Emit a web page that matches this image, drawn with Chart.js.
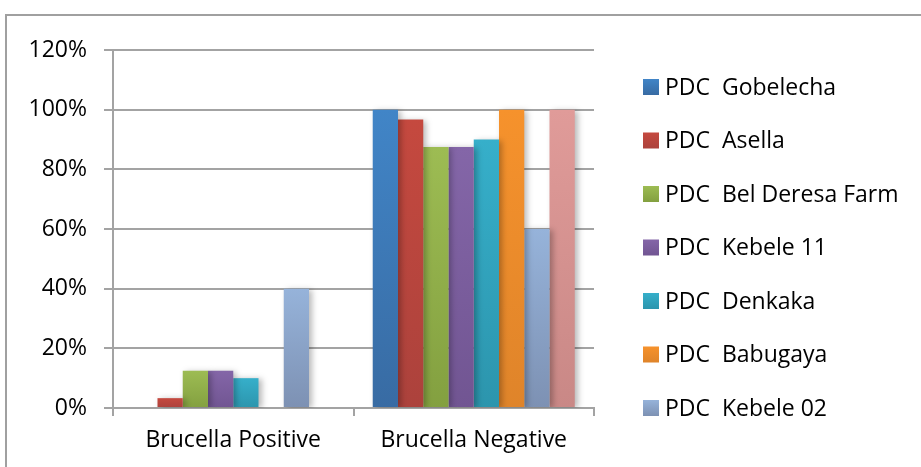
<!DOCTYPE html>
<html>
<head>
<meta charset="utf-8">
<script src="https://cdn.jsdelivr.net/npm/chart.js@4.4.1/dist/chart.umd.min.js"></script>
<style>
  html, body { margin: 0; padding: 0; background: #ffffff; }
  #wrap { position: relative; width: 921px; height: 467px; }
</style>
</head>
<body>
<div id="wrap"><canvas id="chart" width="921" height="467"></canvas></div>
<script>
// Test results per collection site (share of samples)
const categories = ['Brucella Positive', 'Brucella Negative'];
const siteNames = [
  'PDC  Gobelecha',
  'PDC  Asella',
  'PDC  Bel Deresa Farm',
  'PDC  Kebele 11',
  'PDC  Denkaka',
  'PDC  Babugaya',
  'PDC  Kebele 02',
  'PDC  Other'
];
const gobelecha = [0.000, 1.000];
const asella    = [0.033, 0.967];
const belDeresa = [0.125, 0.875];
const kebele11  = [0.125, 0.875];
const denkaka   = [0.100, 0.900];
const babugaya  = [0.000, 1.000];
const kebele02  = [0.400, 0.600];
const other     = [0.000, 1.000];
const yTicks = [0, 0.2, 0.4, 0.6, 0.8, 1.0, 1.2];

const seriesValues = [gobelecha, asella, belDeresa, kebele11, denkaka, babugaya, kebele02, other];
const legendCount = 7;

// Gradient palette: lighter at the top of each bar, darker at the base
const topColors    = ['#4185c7', '#c5493f', '#9dbc53', '#8466a8', '#36afca', '#f6922c', '#96b3da', '#e09b99'];
const bottomColors = ['#386ba3', '#ac423c', '#83a040', '#715592', '#2c95ad', '#df842a', '#7d91b3', '#c98886'];

const FONT = '"Open Sans", Lato, sans-serif';
const FONT_SIZE = 23;
const GRID = '#a3a3a3';

function barFill(ctx, i) {
  const chart = ctx.chart;
  const area = chart.chartArea;
  if (!area) return topColors[i];
  const y = chart.scales.y;
  const v = ctx.raw || 0;
  let top = y.getPixelForValue(v);
  let bottom = y.getPixelForValue(0);
  if (bottom - top < 1) top = bottom - 1;
  const g = chart.ctx.createLinearGradient(0, top, 0, bottom);
  g.addColorStop(0, topColors[i]);
  g.addColorStop(1, bottomColors[i]);
  return g;
}

const datasets = siteNames.map((name, i) => ({
  label: name,
  data: seriesValues[i],
  backgroundColor: (ctx) => barFill(ctx, i),
  borderWidth: 0,
  categoryPercentage: 0.84,
  barPercentage: 1.0
}));

// Soft drop shadow behind the bars
const barShadow = {
  id: 'barShadow',
  beforeDatasetsDraw(chart) {
    const c = chart.ctx;
    c.save();
    c.shadowColor = 'rgba(0,0,0,0.28)';
    c.shadowBlur = 6;
    c.shadowOffsetX = 3;
    c.shadowOffsetY = 1;
  },
  afterDatasetsDraw(chart) {
    chart.ctx.restore();
  }
};

// Outer frame of the chart object
const frame = {
  id: 'frame',
  beforeDraw(chart) {
    const c = chart.ctx;
    c.save();
    c.strokeStyle = '#a0a0a0';
    c.lineWidth = 2;
    c.beginPath();
    c.moveTo(6, 467);
    c.lineTo(6, 15);
    c.lineTo(921, 15);
    c.stroke();
    c.restore();
  }
};

// Legend column on the right
const sideLegend = {
  id: 'sideLegend',
  afterDraw(chart) {
    const c = chart.ctx;
    c.save();
    c.font = FONT_SIZE + 'px ' + FONT;
    c.textBaseline = 'middle';
    c.textAlign = 'left';
    for (let i = 0; i < legendCount; i++) {
      const cy = 87 + i * 53.5;
      const g = c.createLinearGradient(0, cy - 8, 0, cy + 8);
      g.addColorStop(0, topColors[i]);
      g.addColorStop(1, bottomColors[i]);
      c.fillStyle = g;
      c.fillRect(643, cy - 8, 16, 16);
      c.fillStyle = '#000000';
      c.fillText(chart.data.datasets[i].label, 665, cy + 1);
    }
    c.restore();
  }
};

new Chart(document.getElementById('chart'), {
  type: 'bar',
  data: { labels: categories, datasets },
  plugins: [frame, barShadow, sideLegend],
  options: {
    responsive: false,
    animation: false,
    layout: { padding: { top: 50, right: 327, bottom: 0, left: 0 } },
    plugins: {
      legend: { display: false },
      tooltip: { enabled: false },
      title: { display: false }
    },
    scales: {
      x: {
        grid: {
          offset: true,
          drawOnChartArea: false,
          drawTicks: true,
          tickLength: 8,
          color: GRID,
          lineWidth: 2
        },
        border: { display: true, color: GRID, width: 2 },
        ticks: {
          color: '#000000',
          font: { family: FONT, size: FONT_SIZE },
          padding: 11,
          maxRotation: 0
        },
        afterFit(scale) { scale.height = 59; }
      },
      y: {
        min: 0,
        max: 1.2,
        afterBuildTicks(scale) { scale.ticks = yTicks.map(v => ({ value: v })); },
        grid: {
          drawTicks: true,
          tickLength: 9,
          color: GRID,
          lineWidth: 2
        },
        border: { display: true, color: GRID, width: 2 },
        ticks: {
          color: '#000000',
          font: { family: FONT, size: FONT_SIZE },
          padding: 17,
          callback: (v) => Math.round(v * 100) + '%'
        },
        afterFit(scale) { scale.width = 113; }
      }
    }
  }
});
</script>
</body>
</html>
